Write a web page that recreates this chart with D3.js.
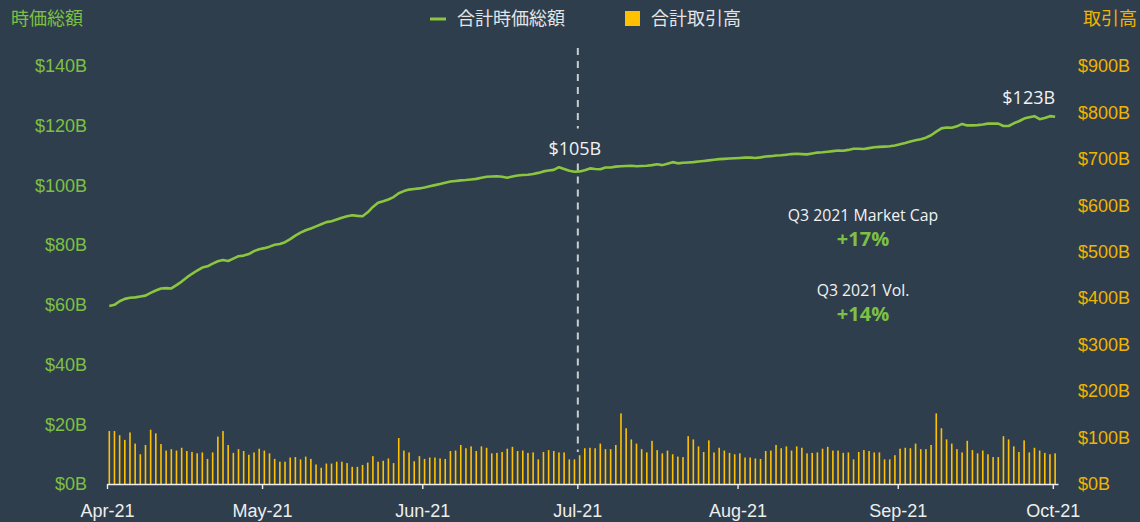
<!DOCTYPE html>
<meta charset="utf-8" />
<html>
<style>
  body { margin: 0; background: #2e3e4c; }
  svg { display: block; font-family: "Open Sans", "Noto Sans CJK JP", sans-serif; }
</style>
<body>
<svg width="1140" height="522"></svg>
<script src="https://d3js.org/d3.v7.min.js"></script>
<script>
  // daily market cap ($B), 1 Apr 2021 .. 1 Oct 2021
  var marketCap = [
    59.6, 60.0, 61.2, 62.0, 62.4, 62.5, 62.8, 63.1, 64.0, 64.8,
    65.5, 65.6, 65.5, 66.6, 67.8, 69.2, 70.4, 71.5, 72.5, 72.9,
    73.8, 74.6, 75.0, 74.7, 75.5, 76.3, 76.5, 77.0, 78.0, 78.6,
    79.0, 79.5, 80.1, 80.4, 81.0, 82.0, 83.2, 84.2, 85.0, 85.6,
    86.3, 87.0, 87.7, 88.0, 88.6, 89.2, 89.7, 90.0, 89.8, 89.7,
    91.0, 92.8, 94.2, 94.7, 95.3, 96.1, 97.4, 98.1, 98.6, 98.8,
    99.0, 99.3, 99.7, 100.1, 100.5, 100.9, 101.3, 101.5, 101.7, 101.8,
    102.0, 102.2, 102.6, 102.9, 103.0, 103.1, 102.9, 102.6, 103.0, 103.3,
    103.5, 103.6, 103.8, 104.2, 104.7, 105.0, 105.2, 106.1, 105.5, 104.9,
    104.6, 104.7, 105.1, 105.7, 105.5, 105.4, 106.0, 106.0, 106.3, 106.4,
    106.5, 106.6, 106.4, 106.5, 106.6, 106.8, 107.1, 106.8, 107.3, 107.8,
    107.4, 107.6, 107.7, 107.8, 108.0, 108.2, 108.4, 108.6, 108.8, 108.9,
    109.0, 109.1, 109.2, 109.3, 109.3, 109.2, 109.4, 109.7, 109.8, 110.0,
    110.1, 110.3, 110.5, 110.6, 110.5, 110.4, 110.7, 111.0, 111.1, 111.3,
    111.5, 111.7, 111.6, 111.9, 112.3, 112.3, 112.2, 112.5, 112.8, 112.9,
    113.0, 113.1, 113.4, 113.8, 114.2, 114.7, 115.1, 115.5, 116.0, 116.8,
    118.0, 119.1, 119.4, 119.3, 119.8, 120.6, 120.1, 120.1, 120.2, 120.4,
    120.7, 120.7, 120.7, 119.9, 119.9, 120.8, 121.5, 122.4, 122.8, 123.2,
    122.2, 122.6, 123.2, 123.0
  ];

  // daily trading volume ($B)
  var volume = [
    114, 114, 105, 95, 111, 87, 64, 84, 117, 109,
    86, 72, 75, 72, 78, 71, 69, 66, 68, 54,
    68, 102, 114, 84, 67, 75, 71, 63, 68, 76,
    72, 66, 54, 48, 48, 57, 58, 53, 59, 54,
    42, 35, 44, 44, 48, 48, 45, 37, 37, 41,
    46, 60, 48, 50, 55, 45, 99, 72, 68, 49,
    60, 54, 57, 57, 55, 54, 71, 72, 84, 77,
    81, 71, 81, 78, 66, 67, 69, 76, 80, 71,
    72, 67, 68, 53, 69, 73, 71, 68, 68, 53,
    53, 62, 77, 78, 77, 87, 75, 75, 84, 152,
    120, 96, 87, 75, 68, 93, 73, 66, 72, 64,
    59, 58, 103, 96, 81, 69, 94, 68, 78, 72,
    67, 64, 66, 57, 57, 55, 54, 71, 72, 84,
    77, 81, 72, 81, 78, 66, 67, 68, 76, 80,
    72, 72, 67, 68, 53, 69, 73, 71, 68, 68,
    53, 53, 62, 76, 78, 77, 87, 75, 75, 84,
    152, 120, 96, 87, 75, 68, 93, 73, 66, 72,
    64, 58, 58, 103, 96, 81, 69, 94, 68, 78,
    72, 67, 64, 66
  ];

  var capTicks = [0, 20, 40, 60, 80, 100, 120, 140];
  var volTicks = [0, 100, 200, 300, 400, 500, 600, 700, 800, 900];
  var monthTicks = ["2021-04-01", "2021-05-01", "2021-06-01", "2021-07-01", "2021-08-01", "2021-09-01", "2021-10-01"];

  var legendLabels = ["合計時価総額", "合計取引高"];
  var axisTitles = ["時価総額", "取引高"];
  var stats = [["Q3 2021 Market Cap", "+17%"], ["Q3 2021 Vol.", "+14%"]];
  var markerDate = "2021-07-01";

  var green = "#8cc63f", greenText = "#7dc043", yellow = "#ffc000", yellowText = "#f0b400";

  var parse = d3.timeParse("%Y-%m-%d");
  var fmtMonth = d3.timeFormat("%b-%y");
  var days = d3.timeDay.range(parse("2021-04-01"), parse("2021-10-02"));

  var svg = d3.select("svg");

  var x = d3.scaleTime()
    .domain([parse("2021-04-01"), parse("2021-10-02")])
    .range([107, 1058]);
  var yCap = d3.scaleLinear().domain([0, 140]).range([484, 66]);
  var yVol = d3.scaleLinear().domain([0, 900]).range([484, 66]);
  var off = 2.3; // marks sit a little right of the day start

  // volume bars
  svg.append("g")
    .selectAll("rect")
    .data(volume)
    .enter()
    .append("rect")
    .attr("x", function (d, i) { return x(days[i]) + off - 0.8; })
    .attr("width", 1.6)
    .attr("y", function (d) { return yVol(d); })
    .attr("height", function (d) { return yVol(0) - yVol(d); })
    .attr("fill", yellow);

  // Jul-21 marker
  var mx = x(parse(markerDate)) + 0.5;
  var mIdx = d3.timeDay.count(days[0], parse(markerDate));
  var mLabelY = yCap(marketCap[mIdx]) - 23;
  [[48, mLabelY - 20], [mLabelY + 15, 452]].forEach(function (s) {
    svg.append("line")
      .attr("x1", mx).attr("x2", mx)
      .attr("y1", s[0]).attr("y2", s[1])
      .attr("stroke", "#c9cdd1")
      .attr("stroke-width", 2)
      .attr("stroke-dasharray", "7,6");
  });

  // market cap line
  var line = d3.line()
    .x(function (d, i) { return x(days[i]) + off; })
    .y(function (d) { return yCap(d); });
  svg.append("path")
    .datum(marketCap)
    .attr("d", line)
    .attr("fill", "none")
    .attr("stroke", green)
    .attr("stroke-width", 2.6)
    .attr("stroke-linejoin", "round");

  // value labels
  svg.append("text")
    .attr("x", mx - 3).attr("y", mLabelY)
    .attr("text-anchor", "middle").attr("dominant-baseline", "central")
    .attr("fill", "#f2f2f2").attr("font-size", "18px")
    .text("$" + Math.round(marketCap[mIdx]) + "B");
  var last = marketCap.length - 1;
  svg.append("text")
    .attr("x", x(days[last]) + off).attr("y", yCap(marketCap[last]) - 20)
    .attr("text-anchor", "end").attr("dominant-baseline", "central")
    .attr("fill", "#f2f2f2").attr("font-size", "18px")
    .text("$" + Math.round(marketCap[last]) + "B");

  // x axis
  var xAxis = svg.append("g")
    .attr("transform", "translate(0,484)")
    .call(d3.axisBottom(x)
      .tickValues(monthTicks.map(parse))
      .tickFormat(fmtMonth)
      .tickSize(5)
      .tickSizeOuter(0)
      .tickPadding(15));
  xAxis.select(".domain").attr("stroke", "#eeeeee").attr("stroke-width", 1.6);
  xAxis.selectAll(".tick line").attr("stroke", "#eeeeee").attr("stroke-width", 1.4);
  xAxis.selectAll("text")
    .attr("fill", "#eeeeee").attr("font-size", "18px")
    .attr("font-family", null);

  // left axis
  var yl = svg.append("g")
    .attr("transform", "translate(107,0)")
    .call(d3.axisLeft(yCap).tickValues(capTicks).tickSize(0).tickPadding(20)
      .tickFormat(function (d) { return "$" + d + "B"; }));
  yl.select(".domain").remove();
  yl.selectAll("text").attr("fill", greenText).attr("font-size", "18px").attr("font-family", null);

  // right axis
  var yr = svg.append("g")
    .attr("transform", "translate(1058,0)")
    .call(d3.axisRight(yVol).tickValues(volTicks).tickSize(0).tickPadding(20)
      .tickFormat(function (d) { return "$" + d + "B"; }));
  yr.select(".domain").remove();
  yr.selectAll("text").attr("fill", yellowText).attr("font-size", "18px").attr("font-family", null);

  // axis titles
  svg.append("text")
    .attr("x", 11).attr("y", 18).attr("dominant-baseline", "central")
    .attr("fill", greenText).attr("font-size", "18px")
    .text(axisTitles[0]);
  svg.append("text")
    .attr("x", 1137).attr("y", 18).attr("dominant-baseline", "central")
    .attr("text-anchor", "end")
    .attr("fill", yellowText).attr("font-size", "18px")
    .text(axisTitles[1]);

  // legend
  var lg = svg.append("g");
  lg.append("line")
    .attr("x1", 430).attr("x2", 446).attr("y1", 19).attr("y2", 19)
    .attr("stroke", green).attr("stroke-width", 3);
  lg.append("text")
    .attr("x", 457).attr("y", 18).attr("dominant-baseline", "central")
    .attr("fill", "#e4e4e4").attr("font-size", "18px")
    .text(legendLabels[0]);
  lg.append("rect")
    .attr("x", 625).attr("y", 11).attr("width", 15).attr("height", 15)
    .attr("fill", yellow);
  lg.append("text")
    .attr("x", 651).attr("y", 18).attr("dominant-baseline", "central")
    .attr("fill", "#e4e4e4").attr("font-size", "18px")
    .text(legendLabels[1]);

  // Q3 stats
  stats.forEach(function (s, i) {
    var top = 215 + i * 75;
    svg.append("text")
      .attr("x", 863).attr("y", top).attr("text-anchor", "middle")
      .attr("dominant-baseline", "central")
      .attr("fill", "#f2f2f2").attr("font-size", "15.8px")
      .text(s[0]);
    svg.append("text")
      .attr("x", 863).attr("y", top + 23).attr("text-anchor", "middle")
      .attr("dominant-baseline", "central")
      .attr("fill", greenText).attr("font-size", "20px").attr("font-weight", "bold")
      .text(s[1]);
  });
</script>
</body>
</html>
